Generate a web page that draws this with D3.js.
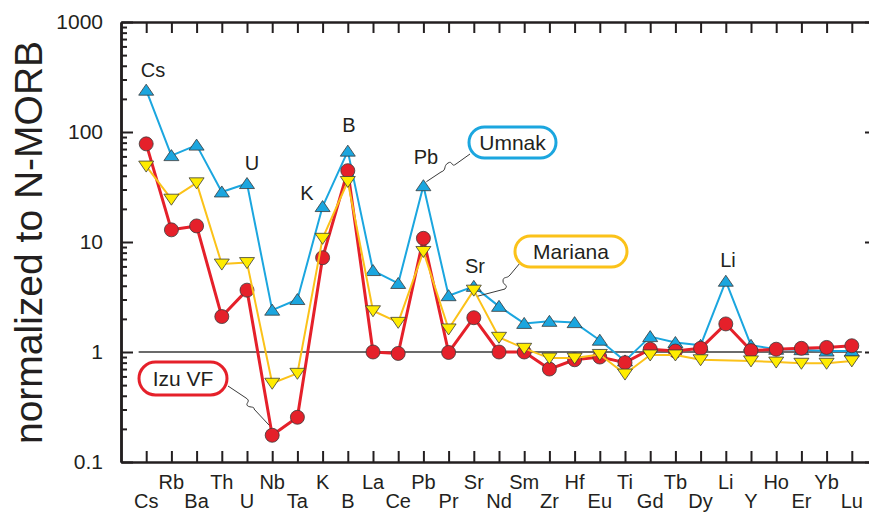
<!DOCTYPE html>
<html>
<head>
<meta charset="utf-8">
<script src="https://cdn.jsdelivr.net/npm/d3@7/dist/d3.min.js"></script>
<style>
  html, body { margin: 0; padding: 0; background: #fff; }
  svg { display: block; font-family: "Liberation Sans", Arial, Helvetica, sans-serif; }
</style>
</head>
<body>
<svg id="chart" width="869" height="512"></svg>
<script>
// Element order of the spider diagram
const elements = ["Cs","Rb","Ba","Th","U","Nb","Ta","K","B","La","Ce","Pb","Pr","Sr","Nd","Sm","Zr","Hf","Eu","Ti","Gd","Tb","Dy","Li","Y","Ho","Er","Yb","Lu"];

// N-MORB normalized concentrations
const umnak   = [240, 61, 76, 28.5, 34, 2.4, 3.0, 21, 67, 5.5, 4.2, 32.5, 3.25, 3.95, 2.6, 1.82, 1.9, 1.85, 1.28, 0.83, 1.38, 1.22, 1.15, 4.4, 1.15, 1.06, 1.05, 1.02, 1.02];
const izuVF   = [78, 12.9, 14, 2.1, 3.65, 0.175, 0.255, 7.2, 44.5, 1.0, 0.97, 10.8, 0.99, 2.05, 1.0, 1.0, 0.7, 0.85, 0.9, 0.8, 1.06, 1.02, 1.08, 1.8, 1.03, 1.06, 1.08, 1.1, 1.14];
const mariana = [49, 24.5, 34.5, 6.3, 6.5, 0.52, 0.64, 10.8, 35.5, 2.37, 1.86, 8.2, 1.62, 3.65, 1.36, 1.08, 0.88, 0.88, 0.95, 0.63, 0.94, 0.94, 0.85, null, 0.83, 0.81, 0.79, 0.79, 0.83];

// Axis tick values
const majorTicks = [0.1, 1, 10, 100, 1000];
const majorLabels = ["0.1", "1", "10", "100", "1000"];

// Elements called out above their peaks
const calloutElements = ["Cs", "U", "K", "B", "Pb", "Sr", "Li"];

const svg = d3.select("#chart");
const plotL = 121, plotR = 877, plotT = 22, plotB = 462;

const x = d3.scaleLinear().domain([-1, elements.length]).range([plotL, plotR]);
const y = d3.scaleLog().domain([0.1, 1000]).range([plotB, plotT]);

const minorTicks = [];
for (let e = -1; e < 3; e++) {
  for (let m = 2; m <= 9; m++) minorTicks.push(m * Math.pow(10, e));
}

const axisColor = "#231f20";

// --- axes ---
function styleAxis(g, width) {
  g.selectAll("path.domain").attr("stroke", axisColor).attr("stroke-width", width);
  g.selectAll(".tick line").attr("stroke", axisColor).attr("stroke-width", 2);
  g.selectAll(".tick text").remove();
}

// left axis: minor + major ticks pointing inward
svg.append("g").attr("transform", `translate(${plotL},0)`)
  .call(d3.axisLeft(y).tickValues(minorTicks).tickSizeInner(-6).tickSizeOuter(0).tickFormat(""))
  .call(g => styleAxis(g, 2.5));
const leftMajor = svg.append("g").attr("transform", `translate(${plotL},0)`)
  .call(d3.axisLeft(y).tickValues(majorTicks).tickSizeInner(-12).tickSizeOuter(0)
        .tickPadding(18).tickFormat((d, i) => majorLabels[i]));
leftMajor.selectAll("path.domain").attr("stroke", axisColor).attr("stroke-width", 2.5);
leftMajor.selectAll(".tick line").attr("stroke", axisColor).attr("stroke-width", 2);
leftMajor.selectAll(".tick text")
  .attr("font-size", 21).attr("fill", "#231f20")
  .attr("font-family", "'Liberation Sans', Arial, sans-serif");

// right axis
svg.append("g").attr("transform", `translate(${plotR},0)`)
  .call(d3.axisRight(y).tickValues(minorTicks).tickSizeInner(-6).tickSizeOuter(0).tickFormat(""))
  .call(g => styleAxis(g, 2.5));
svg.append("g").attr("transform", `translate(${plotR},0)`)
  .call(d3.axisRight(y).tickValues(majorTicks).tickSizeInner(-12).tickSizeOuter(0).tickFormat(""))
  .call(g => styleAxis(g, 2.5));

// top and bottom axes, ticks at every element
const idx = elements.map((d, i) => i);
svg.append("g").attr("transform", `translate(0,${plotT})`)
  .call(d3.axisTop(x).tickValues(idx).tickSizeInner(-11).tickSizeOuter(0).tickFormat(""))
  .call(g => styleAxis(g, 2.5));
svg.append("g").attr("transform", `translate(0,${plotB})`)
  .call(d3.axisBottom(x).tickValues(idx).tickSizeInner(-11).tickSizeOuter(0).tickFormat(""))
  .call(g => styleAxis(g, 2.5));

// element labels in two staggered rows
svg.append("g").selectAll("text").data(elements).join("text")
  .attr("x", (d, i) => x(i))
  .attr("y", (d, i) => i % 2 === 1 ? 489 : 508)
  .attr("text-anchor", "middle")
  .attr("font-size", 20)
  .attr("fill", "#231f20")
  .text(d => d);

// y axis title
svg.append("text")
  .attr("transform", `translate(42,${(42 + 443) / 2}) rotate(-90)`)
  .attr("text-anchor", "middle")
  .attr("font-size", 39)
  .attr("fill", "#231f20")
  .text("normalized to N-MORB");

// reference line at N-MORB = 1
svg.append("line")
  .attr("x1", x(-0.3)).attr("x2", x(28.4))
  .attr("y1", y(1)).attr("y2", y(1))
  .attr("stroke", "#3a3a3a").attr("stroke-width", 1.5);

// --- series ---
const series = [
  { name: "Umnak",   values: umnak,   line: "#1ba6df", fill: "#1ba6df", width: 2,   marker: "up" },
  { name: "Izu VF",  values: izuVF,   line: "#e5202a", fill: "#e5202a", width: 3,   marker: "circle" },
  { name: "Mariana", values: mariana, line: "#fbc219", fill: "#ffec00", width: 2,   marker: "down" }
];

const lineGen = d3.line().x(d => x(d.i)).y(d => y(d.v));
const triUp = "M0,-6L7.5,5L-7.5,5Z";
const triDown = "M0,6L7.5,-5L-7.5,-5Z";

series.forEach(s => {
  const pts = s.values.map((v, i) => ({ i, v })).filter(d => d.v != null);
  const g = svg.append("g");
  g.append("path").datum(pts)
    .attr("d", lineGen)
    .attr("fill", "none")
    .attr("stroke", s.line)
    .attr("stroke-width", s.width)
    .attr("stroke-linejoin", "round");
  const m = g.selectAll("g.m").data(pts).join("g")
    .attr("transform", d => `translate(${x(d.i)},${y(d.v)})`);
  if (s.marker === "circle") {
    m.append("circle").attr("r", 7)
      .attr("fill", s.fill).attr("stroke", "#3a3a3a").attr("stroke-width", 0.8);
  } else {
    m.append("path").attr("d", s.marker === "up" ? triUp : triDown)
      .attr("fill", s.fill).attr("stroke", "#3a3a3a").attr("stroke-width", 0.8);
  }
});

// element callouts above peaks
const calloutPos = {
  Cs: [153, 77], U: [252, 170], K: [307, 200], B: [349, 132],
  Pb: [426, 164], Sr: [475, 273], Li: [728, 267]
};
svg.append("g").selectAll("text").data(calloutElements).join("text")
  .attr("x", d => calloutPos[d][0])
  .attr("y", d => calloutPos[d][1])
  .attr("text-anchor", "middle")
  .attr("font-size", 20)
  .attr("fill", "#231f20")
  .text(d => d);

// --- series labels with wavy leader lines ---
const labels = [
  { text: "Umnak",   color: "#1ba6df", box: [469, 127, 87, 31], elem: "Pb", vals: umnak,
    leader: (px, py) => `M470,154 L456,164 C451,168 453,160 448,163 C443,166 447,170 441,172 L${px + 3},${py - 4}` },
  { text: "Mariana", color: "#fbc219", box: [515, 236, 112, 31], elem: "Sr", vals: mariana,
    leader: (px, py) => `M520,263 L510,275 C507,279 503,276 503,281 C503,286 509,284 505,289 L${px + 4},${py + 6}` },
  { text: "Izu VF",  color: "#e5202a", box: [139, 362, 88, 33], elem: "Nb", vals: izuVF,
    leader: (px, py) => `M228,386 L246,398 C251,401 246,403 247,405 C248,408 255,406 254,409 L${px - 3},${py - 10}` }
];

labels.forEach(l => {
  const i = elements.indexOf(l.elem);
  const px = x(i), py = y(l.vals[i]);
  svg.append("path")
    .attr("d", l.leader(px, py))
    .attr("fill", "none").attr("stroke", "#3a3a3a").attr("stroke-width", 1);
  const [bx, by, bw, bh] = l.box;
  svg.append("rect")
    .attr("x", bx).attr("y", by).attr("width", bw).attr("height", bh)
    .attr("rx", bh / 2).attr("ry", bh / 2)
    .attr("fill", "#fff").attr("stroke", l.color).attr("stroke-width", 3);
  svg.append("text")
    .attr("x", bx + bw / 2).attr("y", by + bh / 2 + 7.5)
    .attr("text-anchor", "middle")
    .attr("font-size", 21)
    .attr("fill", "#231f20")
    .text(l.text);
});
</script>
</body>
</html>
